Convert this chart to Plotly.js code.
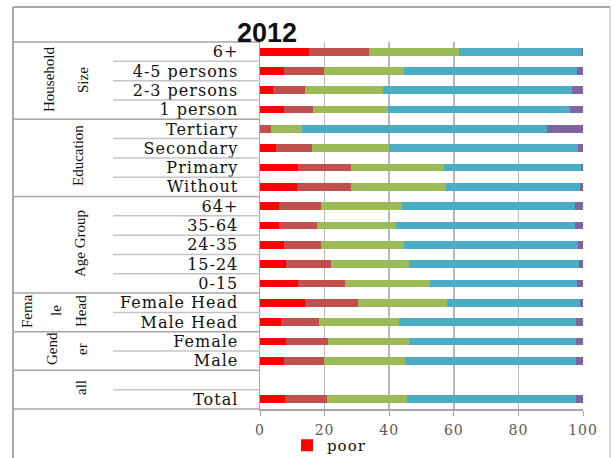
<!DOCTYPE html>
<html><head><meta charset="utf-8">
<script src="https://cdn.plot.ly/plotly-3.0.1.min.js"></script>
<style>html,body{margin:0;padding:0;background:#fff;}#chart{width:612px;height:458px;}
.ytick text{letter-spacing:1px;}
.xtick text{letter-spacing:1px;}
.legendtext{letter-spacing:1px;}
</style>
</head><body><div id="chart"></div>
<script>
const categories = ["6+","4-5 persons","2-3 persons","1 person","Tertiary","Secondary","Primary","Without","64+","35-64","24-35","15-24","0-15","Female Head","Male Head","Female","Male"," ","Total"];
const poor       = [15.3, 7.3, 4.1, 7.3, 0.0, 5.1, 11.8, 11.4, 6.0, 6.0, 7.3, 8.1, 11.9, 13.9, 6.4, 8.1, 7.3, null, 7.7];
const series2    = [18.5, 12.5, 9.9, 9.0, 3.3, 11.1, 16.3, 16.7, 12.8, 11.6, 11.6, 13.8, 14.5, 16.3, 12.0, 12.9, 12.4, null, 12.9];
const series3    = [27.8, 24.8, 24.2, 23.3, 9.6, 23.6, 29.0, 29.5, 25.3, 24.4, 25.7, 24.3, 26.1, 27.6, 24.6, 25.1, 25.2, null, 25.0];
const series4    = [38.1, 53.5, 58.5, 56.3, 75.8, 58.7, 42.4, 41.4, 53.5, 55.6, 53.9, 52.5, 45.6, 41.2, 54.7, 51.8, 52.9, null, 52.3];
const series5    = [0.3, 1.9, 3.3, 4.1, 11.3, 1.5, 0.5, 1.0, 2.4, 2.4, 1.5, 1.3, 1.9, 1.0, 2.3, 2.1, 2.2, null, 2.1];
const seriesNames = ["poor","series 2","series 3","series 4","series 5"];
const colors = ["#FF0000","#C0504D","#9BBB59","#4BACC6","#8064A2"];
const groups = [
  {lines:["Household","Size"], xs:[49,83], y:80, start:0, end:4},
  {lines:["Education"], xs:[78], y:156, start:4, end:8},
  {lines:["Age Group"], xs:[80], y:244, start:8, end:13},
  {lines:["Fema","le","Head"], xs:[27,56,81], y:311, start:13, end:15},
  {lines:["Gend","er"], xs:[52,82], y:349, start:15, end:17},
  {lines:["all"], xs:[81], y:388, start:17, end:19}
];

const W=612,H=458,L=260,R=583,T=42,B=409;
const px=x=>(x-L)/(R-L), py=y=>(B-y)/(B-T);
const rowH=(B-T)/categories.length;

const data=[poor,series2,series3,series4,series5].map((v,i)=>({
  type:'bar',orientation:'h',y:categories,x:v,name:seriesNames[i],
  marker:{color:colors[i],line:{width:0}},showlegend:i===0
}));

const shapes=[];
const ln=(x0,y0,x1,y1,c,w)=>shapes.push({type:'line',xref:'paper',yref:'paper',x0:px(x0),y0:py(y0),x1:px(x1),y1:py(y1),line:{color:c,width:w}});
ln(13,7,610,7,'#8c8c8c',1.5);
ln(13,7,13,470,'#8c8c8c',1.5);
ln(610,7,610,470,'#b0b0b0',1);
ln(13,T,L,T,'#a6a6a6',1.5);
ln(13,B,L,B,'#a6a6a6',1.5);
for(let k=1;k<categories.length;k++){
  const y=T+k*rowH;
  const isGroup=groups.some(g=>g.start===k);
  if(isGroup) ln(13,y,L,y,'#a6a6a6',1.5); else ln(113,y,L,y,'#c4c4c4',1.5);
}
const annotations=[];
groups.forEach(g=>{
  g.lines.forEach((t,i)=>annotations.push({xref:'paper',yref:'paper',x:px(g.xs[i]),y:py(g.y),text:t,showarrow:false,textangle:-90,xanchor:'center',yanchor:'middle',font:{family:'Liberation Serif, serif',size:15,color:'#111'}}));
});

const layout={
  width:W,height:H,margin:{l:L,r:W-R,t:T,b:H-B,pad:0,autoexpand:false},
  paper_bgcolor:'#fff',plot_bgcolor:'#fff',
  barmode:'stack',bargap:0.6,
  title:{text:'<b>2012</b>',x:267/W,xref:'container',xanchor:'center',y:1-33/H,yref:'container',yanchor:'middle',font:{family:'Liberation Sans, Arial, sans-serif',size:27,color:'#111'}},
  xaxis:{range:[0,100],tickvals:[0,20,40,60,80,100],showgrid:true,gridcolor:'#b8b8b8',gridwidth:1.5,zeroline:false,showline:true,linecolor:'#a6a6a6',linewidth:1.5,ticks:'outside',ticklen:5,tickcolor:'#a6a6a6',ticklabelstandoff:3,tickfont:{family:'DejaVu Serif, serif',size:14,color:'#595959'},fixedrange:true},
  yaxis:{type:'category',categoryorder:'array',categoryarray:categories,autorange:'reversed',showgrid:false,zeroline:false,showline:true,linecolor:'#a6a6a6',linewidth:1.5,ticks:'',ticklabelstandoff:17,tickfont:{family:'DejaVu Serif, serif',size:16,color:'#111'},fixedrange:true},
  legend:{orientation:'h',x:px(287),xanchor:'left',y:py(429),yanchor:'top',font:{family:'DejaVu Serif, serif',size:15,color:'#111'},bgcolor:'rgba(0,0,0,0)'},
  shapes:shapes,annotations:annotations
};
Plotly.newPlot('chart',data,layout,{displayModeBar:false,staticPlot:true});
</script></body></html>
